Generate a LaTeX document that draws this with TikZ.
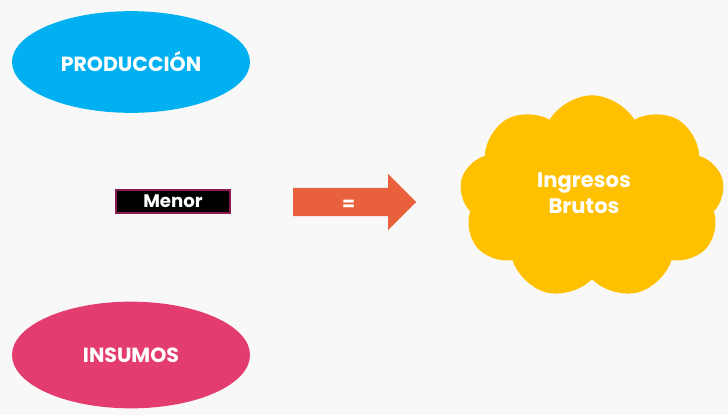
\documentclass[tikz,border=0pt]{standalone}
\usepackage{fontspec}
\setmainfont{Poppins}
\usetikzlibrary{shapes.geometric,shapes.symbols,shapes.arrows}
\definecolor{IBBack}{HTML}{F8F8F8}
\definecolor{IBCyan}{HTML}{00B0F0}
\definecolor{IBPink}{HTML}{E33D6F}
\definecolor{IBOrange}{HTML}{E8603C}
\definecolor{IBGold}{HTML}{FFC000}
\definecolor{IBFrame}{HTML}{8B1A4E}
\tikzset{
  oval/.style={ellipse,minimum width=7.14cm,minimum height=3.05cm,text=white,font=\fontsize{17.5}{20}\selectfont\bfseries},
}
\begin{document}
\begin{tikzpicture}[x=0.03cm,y=-0.03cm]
\fill[IBBack] (0,0) rectangle (728,415);
\useasboundingbox (0,0) rectangle (728,415);
\node[oval,fill=IBCyan] (prod) at (131,62) {PRODUCCIÓN};
\node[oval,fill=IBPink,minimum height=3.2cm] (ins) at (131,355) {INSUMOS};
\node[draw=IBFrame,line width=1pt,fill=black,text=white,minimum width=3.42cm,minimum height=0.69cm,inner sep=0pt,font=\fontsize{15.5}{17}\selectfont\bfseries] (menor) at (173,201.5) {Menor};
\node[single arrow,fill=IBOrange,text=white,minimum height=3.69cm,minimum width=1.68cm,single arrow head extend=0.42cm,inner sep=0pt,text height=0.68cm,text depth=0.16cm,anchor=tail,font=\fontsize{16}{18}\selectfont\bfseries] (igual) at (293,202) {\hspace*{0.06cm}=};
\node[cloud,cloud puffs=9,cloud puff arc=120,aspect=1.3,fill=IBGold,minimum width=7.95cm,minimum height=6.1cm,inner sep=0pt] (ing) at (592,197) {};
\node[text=white,align=center,font=\fontsize{18}{22}\selectfont\bfseries] (ingtxt) at (584,193) {Ingresos\\Brutos};
\end{tikzpicture}
\end{document}
